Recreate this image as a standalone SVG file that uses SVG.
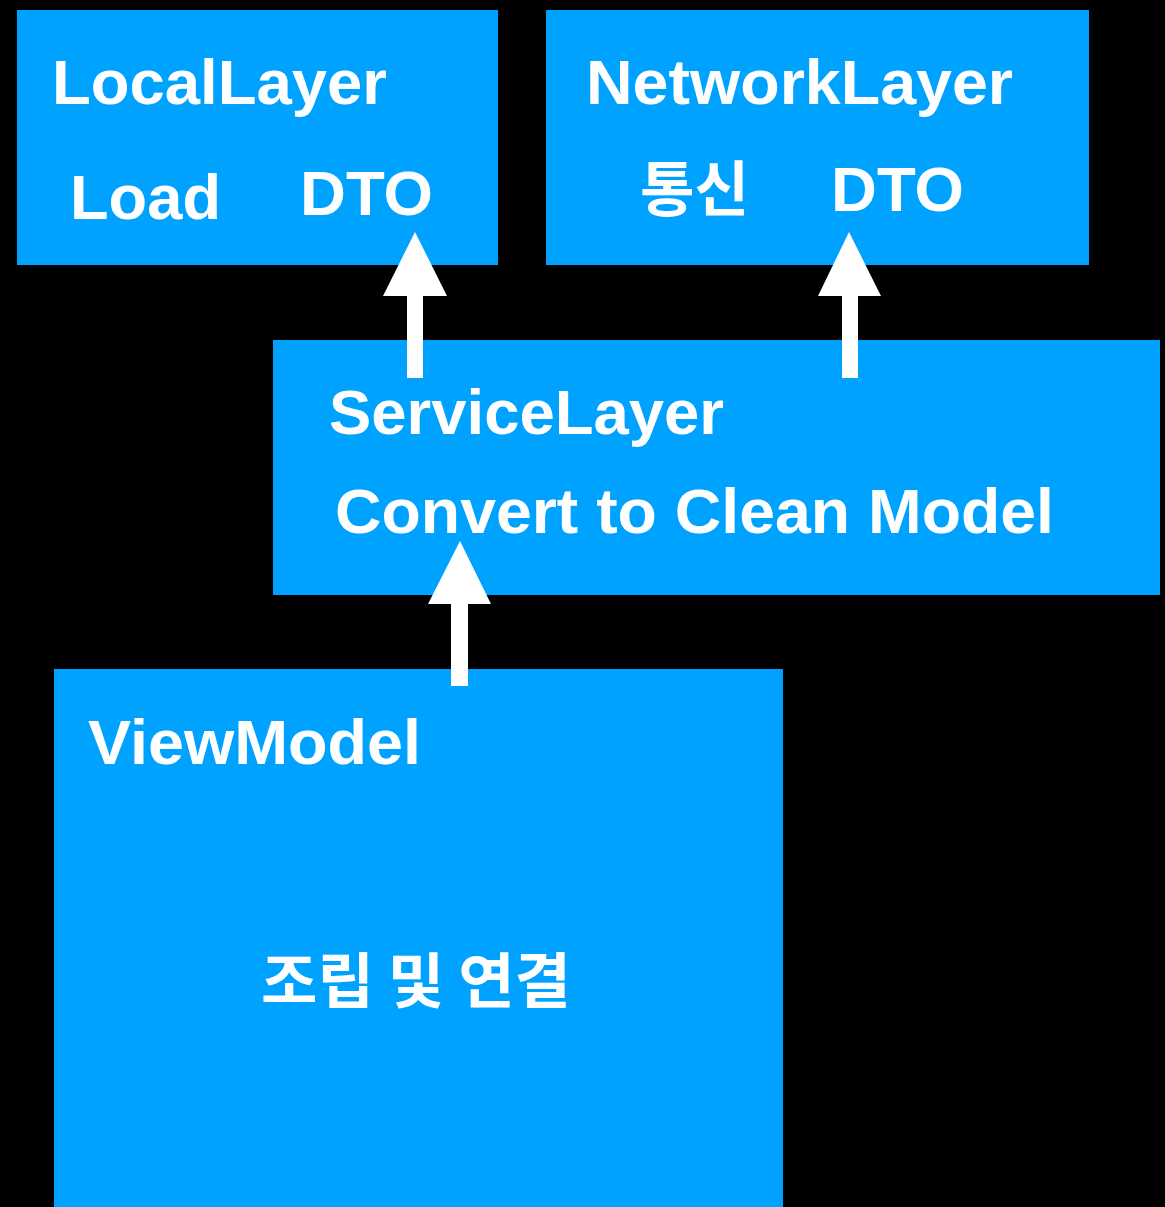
<svg xmlns="http://www.w3.org/2000/svg" width="1165" height="1207" viewBox="0 0 1165 1207">
<style>
.box{fill:#00A2FF}
.t{fill:#fff;font-family:"Liberation Sans",Arial,"Noto Sans CJK KR",sans-serif;font-weight:bold;font-size:63px}
.k{fill:#fff;font-family:"Noto Sans CJK KR","Liberation Sans",sans-serif;font-weight:bold;font-size:60px}
.arrow{fill:#fff}
</style>
<rect x="0" y="0" width="1165" height="1207" fill="#000"/>
<g id="local-layer">
<rect class="box" x="17" y="10" width="481" height="255"/>
<text class="t" x="52" y="104" textLength="335" lengthAdjust="spacingAndGlyphs">LocalLayer</text>
<text class="t" x="70" y="219" textLength="151" lengthAdjust="spacingAndGlyphs">Load</text>
<text class="t" x="300" y="215" textLength="133" lengthAdjust="spacingAndGlyphs">DTO</text>
</g>
<g id="network-layer">
<rect class="box" x="546" y="10" width="543" height="255"/>
<text class="t" x="586" y="104" textLength="427" lengthAdjust="spacingAndGlyphs">NetworkLayer</text>
<text class="k" x="640" y="211" textLength="109" lengthAdjust="spacingAndGlyphs">통신</text>
<text class="t" x="831" y="211" textLength="133" lengthAdjust="spacingAndGlyphs">DTO</text>
</g>
<g id="service-layer">
<rect class="box" x="273" y="340" width="887" height="255"/>
<text class="t" x="329" y="434" textLength="395" lengthAdjust="spacingAndGlyphs">ServiceLayer</text>
<text class="t" x="335" y="533" textLength="719" lengthAdjust="spacingAndGlyphs">Convert to Clean Model</text>
</g>
<g id="view-model">
<rect class="box" x="54" y="669" width="729" height="538"/>
<text class="t" x="88" y="764" textLength="333" lengthAdjust="spacingAndGlyphs">ViewModel</text>
<text class="k" x="261" y="1003" font-size="58" textLength="310" lengthAdjust="spacingAndGlyphs">조립 및 연결</text>
</g>
<g id="connectors">
<polygon class="arrow" points="415,232 447,296 423,296 423,378 407,378 407,296 383,296"/>
<polygon class="arrow" points="849,232 881,296 858,296 858,378 842,378 842,296 818,296"/>
<polygon class="arrow" points="460,541 491,604 468,604 468,686 451,686 451,604 428,604"/>
</g>
</svg>
